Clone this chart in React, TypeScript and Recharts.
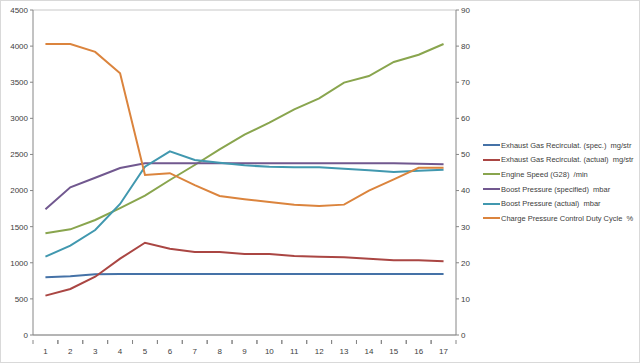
import React from 'react';
import { LineChart, Line, XAxis, YAxis, CartesianGrid } from 'recharts';

const categories = ['1','2','3','4','5','6','7','8','9','10','11','12','13','14','15','16','17'];
const egrSpec = [800, 812, 840, 845, 845, 845, 845, 845, 845, 845, 845, 845, 845, 845, 845, 845, 845];
const egrActual = [545, 637, 807, 1057, 1278, 1195, 1149, 1149, 1121, 1121, 1094, 1085, 1075, 1057, 1034, 1034, 1020];
const engineSpeed = [1408, 1463, 1592, 1758, 1929, 2146, 2354, 2571, 2774, 2940, 3125, 3277, 3494, 3586, 3780, 3881, 4029];
const boostSpec = [1740, 2045, 2178, 2312, 2377, 2377, 2377, 2377, 2377, 2377, 2377, 2377, 2377, 2377, 2377, 2370, 2363];
const boostActual = [1085, 1237, 1454, 1814, 2330, 2543, 2423, 2386, 2349, 2330, 2321, 2321, 2303, 2280, 2257, 2275, 2289];
const dutyCycle = [80.6, 80.6, 78.4, 72.5, 44.3, 44.8, 41.5, 38.5, 37.6, 36.8, 36.1, 35.7, 36.1, 40.0, 43.1, 46.3, 46.3];

const leftTicks = [0, 500, 1000, 1500, 2000, 2500, 3000, 3500, 4000, 4500];
const rightTicks = [0, 10, 20, 30, 40, 50, 60, 70, 80, 90];

const seriesNames = [
  'Exhaust Gas Recirculat. (spec.)  mg/str',
  'Exhaust Gas Recirculat. (actual)  mg/str',
  'Engine Speed (G28)  /min',
  'Boost Pressure (specified)  mbar',
  'Boost Pressure (actual)  mbar',
  'Charge Pressure Control Duty Cycle  %',
];
const colors = ['#4572A7', '#AA4643', '#89A54E', '#71588F', '#4198AF', '#DB843D'];

const data = categories.map((c, i) => ({
  cat: c,
  s0: egrSpec[i],
  s1: egrActual[i],
  s2: engineSpeed[i],
  s3: boostSpec[i],
  s4: boostActual[i],
  s5: dutyCycle[i],
}));

const FONT = '"Liberation Sans", Arial, sans-serif';
const AXIS = '#868686';

const XTick = (props: any) => {
  const { x, y, payload } = props;
  const half = payload && payload.offset ? payload.offset : 12.45;
  return (
    <g>
      <line x1={x - half} x2={x - half} y1={y - 3} y2={y + 1} stroke={AXIS} />
      <line x1={x + half} x2={x + half} y1={y - 3} y2={y + 1} stroke={AXIS} />
      <text x={x} y={y + 11} textAnchor="middle" fontSize={8} fill="#404040" fontFamily={FONT}>
        {payload.value}
      </text>
    </g>
  );
};

export default function App() {
  return (
    <div style={{ position: 'absolute', left: 0, top: 0, width: 640, height: 363, background: '#fff' }}>
      <div style={{ position: 'absolute', left: 0, top: 0, width: 638, height: 361, border: '1px solid #d9d9d9' }} />
      <LineChart
        width={640}
        height={363}
        data={data}
        margin={{ top: 10, right: 164, bottom: 8, left: 0 }}
      >
        <CartesianGrid vertical={false} stroke="#c8c8c8" />
        <XAxis
          dataKey="cat"
          scale="band"
          stroke={AXIS}
          tickLine={false}
          tick={<XTick />}
          height={20}
          interval={0}
        />
        <YAxis
          yAxisId="left"
          domain={[0, 4500]}
          ticks={leftTicks}
          width={33}
          stroke={AXIS}
          tickSize={3}
          tick={{ fontSize: 8, fill: '#404040', fontFamily: FONT }}
          interval={0}
        />
        <YAxis
          yAxisId="right"
          orientation="right"
          domain={[0, 90]}
          ticks={rightTicks}
          width={20}
          stroke={AXIS}
          tickSize={3}
          tick={{ fontSize: 8, fill: '#404040', fontFamily: FONT, textAnchor: 'start' }}
          interval={0}
        />
        {['s0', 's1', 's2', 's3', 's4'].map((k, i) => (
          <Line
            key={k}
            yAxisId="left"
            dataKey={k}
            name={seriesNames[i]}
            stroke={colors[i]}
            strokeWidth={2}
            dot={false}
            type="linear"
            isAnimationActive={false}
          />
        ))}
        <Line
          yAxisId="right"
          dataKey="s5"
          name={seriesNames[5]}
          stroke={colors[5]}
          strokeWidth={2}
          dot={false}
          type="linear"
          isAnimationActive={false}
        />
      </LineChart>
      <div style={{ position: 'absolute', left: 483, top: 138, fontFamily: FONT, fontSize: 7.5, color: '#404040' }}>
        {seriesNames.map((n, i) => (
          <div key={i} style={{ display: 'flex', alignItems: 'center', height: 14.6, whiteSpace: 'pre' }}>
            <svg width={17} height={4} style={{ marginRight: 1 }}>
              <line x1={0} x2={17} y1={2} y2={2} stroke={colors[i]} strokeWidth={2} />
            </svg>
            <span>{n}</span>
          </div>
        ))}
      </div>
    </div>
  );
}
